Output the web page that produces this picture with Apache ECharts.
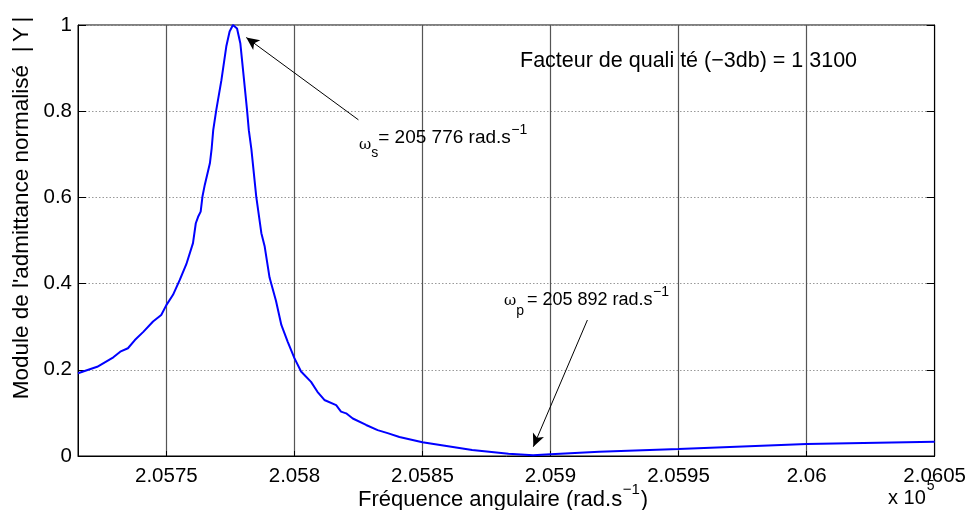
<!DOCTYPE html>
<html>
<head>
<meta charset="utf-8">
<script src="https://cdn.jsdelivr.net/npm/echarts@6/dist/echarts.min.js"></script>
<style>html,body{margin:0;padding:0;background:#fff}#c{width:969px;height:510px}</style>
</head>
<body>
<div id="c"></div>
<script>
// angular frequency (rad/s)
const freq = [205715.5,205723,205729.3,205732,205735,205737.7,205741,205744.8,205748,205750,205752.6,205755.2,205757.8,205760.4,205761.5,205762.4,205763.4,205764.1,205765,205767,205767.7,205768.3,205769.5,205771.5,205773.4,205774.7,205776,205777.6,205778.9,205780.2,205781.5,205782.2,205783.2,205785.1,205787.1,205788.4,205790.3,205792.8,205794.9,205797.4,205800,205802.6,205806.5,205809,205811.7,205816.3,205818.2,205820.2,205822.8,205828,205832.5,205836.4,205841,205850,205869.4,205883.6,205893.2,205900,205919,205950,206000,206050];
// normalised admittance |Y|
const admittance = [0.192,0.207,0.229,0.242,0.25,0.269,0.288,0.312,0.327,0.35,0.374,0.408,0.445,0.494,0.54,0.555,0.567,0.602,0.629,0.679,0.714,0.756,0.803,0.872,0.95,0.985,1.0,0.992,0.957,0.88,0.803,0.756,0.712,0.602,0.517,0.486,0.414,0.36,0.304,0.265,0.227,0.196,0.172,0.149,0.13,0.118,0.103,0.099,0.087,0.072,0.06,0.053,0.044,0.032,0.014,0.005,0.0016,0.004,0.010,0.016,0.028,0.033];
const xTicks = [205750,205800,205850,205900,205950,206000,206050];
const xTickLabels = ['2.0575','2.058','2.0585','2.059','2.0595','2.06','2.0605'];
const yTickLabels = ['0','0.2','0.4','0.6','0.8','1'];
const xRange = [205715.5, 206050];
// annotation arrows [from, to] in data coordinates
const arrowS = [[205825, 0.78], [205781.2, 0.971]];
const arrowP = [[205914.4, 0.3155], [205893.3, 0.0216]];

const FONT = '"Liberation Sans", Arial, Helvetica, sans-serif';
const SERIF = '"DejaVu Serif", "Liberation Serif", serif';
const chart = echarts.init(document.getElementById('c'), null, {renderer: 'canvas'});
const data = freq.map((f, i) => [f, admittance[i]]);

const mctx = document.createElement('canvas').getContext('2d');
function measure(s, size, family) {
  mctx.font = size + 'px ' + (family || FONT);
  return mctx.measureText(s).width;
}
// place a run of text pieces one after the other: [text, size, yCenter, family, gapAfter]
function run(x, parts) {
  const out = [];
  let cx = x;
  parts.forEach(p => {
    const [s, size, y, family, gap] = p;
    out.push({type: 'text', x: cx, y: y, z: 100,
      style: {text: s, fontSize: size, fontFamily: family || FONT, fill: '#000', align: 'left', verticalAlign: 'middle'}});
    cx += measure(s, size, family) + (gap || 0);
  });
  return out;
}

const graphics = [].concat(
  run(520, [['Facteur de quali té (−3db) = 1 3100', 21.5, 61]]),
  run(359, [['ω', 15, 145, SERIF, 0], ['s', 14, 153, FONT, 0], ['= 205 776 rad.s', 19, 138, FONT, 0.5], ['−1', 14, 130]]),
  run(504, [['ω', 15, 301, SERIF, 0], ['p', 14, 311, FONT, 3], ['= 205 892 rad.s', 18, 300, FONT, 0.5], ['−1', 14, 292]]),
  run(358, [['Fréquence angulaire (rad.s', 22, 500, FONT, 0.5], ['−1', 15, 490, FONT, 1], [')', 22, 500]]),
  run(888, [['x 10', 20, 498, FONT, 1], ['5', 14, 486]]),
  [{type: 'text', x: 22, y: 208, rotation: Math.PI / 2, z: 100,
    style: {text: "Module de l'admittance normalisé  |\u2009Y\u2009|", fontSize: 22.5, fontFamily: FONT, fill: '#000', align: 'center', verticalAlign: 'middle'}}]
);

chart.setOption({
  animation: false,
  grid: {left: 78, top: 25, right: 32.5, bottom: 54, show: true, borderColor: '#000', borderWidth: 1, backgroundColor: 'transparent'},
  xAxis: {
    type: 'value', min: xRange[0], max: xRange[1],
    axisLine: {show: true, lineStyle: {color: '#000', width: 1}},
    axisTick: {show: true, inside: true, length: 5, customValues: xTicks, lineStyle: {color: '#000'}},
    axisLabel: {customValues: xTicks, color: '#000', fontSize: 20.5, fontFamily: FONT, margin: 10,
      formatter: v => { const i = xTicks.indexOf(v); return i >= 0 ? xTickLabels[i] : ''; }},
    splitLine: {show: true, lineStyle: {color: '#555', width: 1.2, type: 'solid'}}
  },
  yAxis: [{
    type: 'value', min: 0, max: 1, interval: 0.2,
    axisLine: {show: true, lineStyle: {color: '#000', width: 1}},
    axisTick: {show: true, inside: true, length: 8, lineStyle: {color: '#000'}},
    axisLabel: {color: '#000', fontSize: 20.5, fontFamily: FONT, margin: 6,
      formatter: v => yTickLabels[Math.round(v / 0.2)]},
    splitLine: {show: true, lineStyle: {color: '#999', width: 1, type: [1.5, 2]}}
  }, {
    type: 'value', min: 0, max: 1, interval: 0.2, position: 'right',
    axisLine: {show: true, lineStyle: {color: '#000', width: 1}},
    axisTick: {show: true, inside: true, length: 8, lineStyle: {color: '#000'}},
    axisLabel: {show: false}, splitLine: {show: false}
  }],
  series: [{
    type: 'line', data: data, showSymbol: false, symbol: 'none',
    lineStyle: {color: '#0000ff', width: 2}, z: 5,
    markLine: {
      silent: true, symbol: ['none', 'arrow'], symbolSize: [9, 13],
      lineStyle: {color: '#000', width: 1, type: 'solid'},
      label: {show: false},
      data: [
        [{coord: arrowS[0]}, {coord: arrowS[1]}],
        [{coord: arrowP[0]}, {coord: arrowP[1]}]
      ]
    }
  }],
  graphic: graphics
});
</script>
</body>
</html>
